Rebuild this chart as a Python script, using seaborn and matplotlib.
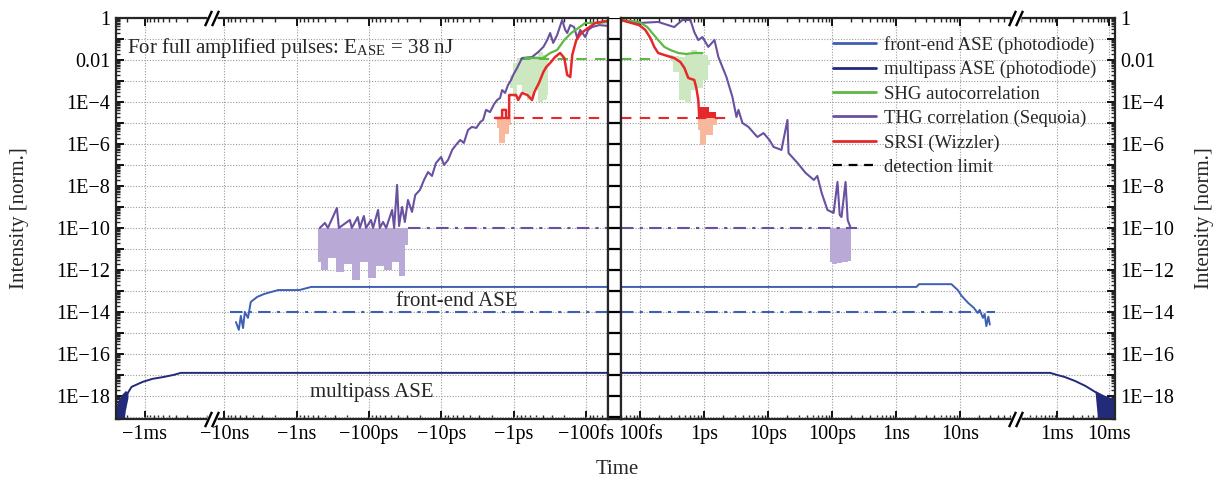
import numpy as np
import matplotlib
matplotlib.use('Agg')
import matplotlib.pyplot as plt
import matplotlib.ticker as mticker
import matplotlib.transforms as mtransforms
from matplotlib.lines import Line2D
import seaborn as sns

# 时间单位 s（负值 = 主脉冲之前），强度为归一化值

# front-end ASE (photodiode)
fe_left_t = [-6.9e-9, -6.3e-9, -5.9e-9, -5.5e-9, -5.2e-9, -4.7e-9, -4.3e-9, -3.5e-9, -2.8e-9,
             -1.8e-9, -9.2e-10, -6.3e-10, -5e-14]
fe_left_i = [3.3e-15, 1.4e-15, 6.5e-15, 1.7e-15, 1.0e-14, 5.2e-15, 3.0e-14, 5.2e-14, 7.2e-14,
             1.1e-13, 1.1e-13, 1.55e-13, 1.55e-13]
fe_right_t = [5e-14, 2.1e-9, 2.3e-9, 7.4e-9, 9.3e-9, 1.07e-8, 1.35e-8, 1.66e-8, 1.9e-8,
              2.05e-8, 2.3e-8, 2.45e-8, 2.6e-8, 2.8e-8, 2.95e-8]
fe_right_i = [1.55e-13, 1.55e-13, 2.1e-13, 2.1e-13, 1.1e-13, 5.8e-14, 2.7e-14, 1.55e-14, 8.9e-15,
              1.25e-14, 5.2e-15, 8e-15, 2.1e-15, 6e-15, 2.5e-15]

# multipass ASE (photodiode)
mp_left_t = [-3.0e-3, -2.6e-3, -2.1e-3, -1.65e-3, -1.07e-3, -7.4e-4, -4.8e-4, -3.3e-4, -2.5e-4, -5e-14]
mp_left_i = [8e-20, 4e-19, 8.9e-19, 2.7e-18, 4.7e-18, 6.5e-18, 8e-18, 1.0e-17, 1.25e-17, 1.25e-17]
mp_right_t = [5e-14, 7.4e-4, 1.0e-3, 1.4e-3, 2.2e-3, 3.5e-3, 5.4e-3, 7.4e-3, 9.5e-3, 1.3e-2]
mp_right_i = [1.25e-17, 1.25e-17, 1.0e-17, 8e-18, 5.2e-18, 3e-18, 1.55e-18, 1e-18, 7.2e-19, 4.7e-19]
mp_noise_left_t = [-3.0e-3, -2.7e-3, -2.4e-3, -2.1e-3, -1.9e-3]
mp_noise_left_hi = [3e-19, 7e-19, 1.2e-18, 1.8e-18, 1.5e-18]
mp_noise_left_lo = [1e-20, 1e-20, 1e-20, 2e-19, 8e-19]
mp_noise_right_t = [5.4e-3, 6.5e-3, 8e-3, 1e-2, 1.3e-2]
mp_noise_right_hi = [1.8e-18, 1.4e-18, 1.1e-18, 9e-19, 7e-19]
mp_noise_right_lo = [1.4e-18, 1e-20, 1e-20, 1e-20, 1e-20]

# THG correlation (Sequoia)
thg_left_t = [-4.78e-10, -4.07e-10, -3.70e-10, -2.78e-10, -2.61e-10, -1.84e-10, -1.73e-10, -1.43e-10,
              -1.34e-10, -1.18e-10, -1.10e-10, -9.4e-11, -8.8e-11, -7.5e-11, -7.1e-11, -6.4e-11,
              -5.8e-11, -4.8e-11, -4.5e-11, -4.1e-11, -3.85e-11, -3.5e-11, -3.2e-11, -2.9e-11,
              -2.55e-11, -2.3e-11, -1.98e-11, -1.74e-11, -1.53e-11, -1.35e-11, -1.19e-11, -1.01e-11,
              -9.2e-12, -8.1e-12, -7.1e-12, -6.3e-12, -5.5e-12, -4.9e-12, -4.3e-12, -3.8e-12,
              -3.3e-12, -2.9e-12, -2.66e-12, -2.42e-12, -2.13e-12, -1.87e-12, -1.70e-12, -1.55e-12,
              -1.45e-12, -1.32e-12, -1.20e-12, -1.09e-12, -1.02e-12, -9.0e-13, -7.7e-13, -5.6e-13,
              -4.6e-13, -3.9e-13, -3.46e-13, -3.15e-13, -2.86e-13, -2.52e-13, -2.15e-13, -1.95e-13,
              -1.83e-13, -1.66e-13, -1.47e-13, -1.33e-13, -1.21e-13, -1.03e-13, -9.4e-14, -8.3e-14,
              -6.6e-14, -5.0e-14]
thg_left_i = [1e-10, 1.73e-10, 1e-10, 8.9e-10, 1e-10, 2.4e-10, 1e-10, 3.3e-10,
              1e-10, 3.7e-10, 1e-10, 2.4e-10, 1e-10, 7.2e-10, 1e-10, 1.93e-10,
              1e-10, 7.2e-10, 1e-10, 1.12e-8, 1.24e-10, 1e-9, 1.93e-10, 2.15e-9,
              5.8e-10, 3.7e-9, 6.5e-9, 1.93e-8, 4.6e-8, 3.0e-8, 1.24e-7, 2.4e-7,
              1e-7, 1.73e-7, 5.2e-7, 9e-7, 1.55e-6, 1.12e-6, 4.6e-6, 6.5e-6,
              5.8e-6, 1.12e-5, 1.39e-5, 4.2e-5, 3.3e-5, 8e-5, 1.24e-4, 1.55e-4,
              3.7e-4, 2.7e-4, 6.5e-4, 1.12e-3, 1.93e-3, 4.2e-3, 1.24e-2, 1.39e-2,
              2.4e-2, 4.2e-2, 8.9e-2, 0.193, 6.5e-2, 0.155, 0.80, 0.27,
              0.193, 0.46, 0.37, 0.112, 0.27, 0.124, 0.27, 0.37,
              0.46, 0.42]
thg_right_t = [5.0e-14, 9.6e-14, 1.91e-13, 3.4e-13, 4.55e-13, 6.1e-13, 7.0e-13, 8.1e-13, 9.4e-13,
               1.16e-12, 1.45e-12, 1.67e-12, 2.23e-12, 2.77e-12, 3.2e-12, 3.44e-12, 3.97e-12,
               4.93e-12, 6.8e-12, 8.5e-12, 1.05e-11, 1.22e-11, 1.62e-11, 2.01e-11, 2.09e-11,
               2.89e-11, 3.86e-11, 5.2e-11, 5.9e-11, 6.9e-11, 8.5e-11, 1.06e-10, 1.22e-10,
               1.32e-10, 1.41e-10, 1.63e-10, 1.76e-10, 1.96e-10]
thg_right_i = [0.80, 0.58, 0.65, 0.37, 0.80, 0.80, 0.215, 8.9e-2, 0.124,
               4.2e-2, 8.9e-2, 1.39e-2, 1.55e-3, 1.73e-4, 1.93e-5, 4.2e-5, 1e-5,
               6.5e-6, 2.15e-6, 3.3e-6, 1.55e-6, 7.2e-7, 5.2e-7, 1.39e-5, 3.7e-7,
               1.24e-7, 4.2e-8, 1.93e-8, 3.0e-8, 4.6e-9, 7.2e-10, 5.2e-10, 1.55e-8,
               4.2e-10, 3.3e-10, 1.55e-8, 2.4e-10, 1e-10]
thg_fill_left_t = [-5.09e-10, -4.07e-10, -3.26e-10, -2.52e-10, -1.96e-10, -1.52e-10, -1.18e-10,
                   -9.1e-11, -7.1e-11, -5.5e-11, -4.25e-11, -3.4e-11, -2.9e-11]
thg_fill_left_lo = [2.4e-12, 1e-12, 3.7e-12, 8e-13, 1.93e-12, 3.3e-13, 2.4e-12,
                    4.2e-13, 1.55e-12, 1e-12, 2.4e-12, 5.2e-13, 1.55e-11]
thg_fill_right_t = [9.2e-11, 1.10e-10, 1.32e-10, 1.57e-10, 1.96e-10]
thg_fill_right_lo = [2.4e-12, 1.93e-12, 2.1e-12, 2.4e-12, 2.8e-12]

# SHG autocorrelation
shg_left_t = [-6.98e-13, -3.94e-13, -3.15e-13, -2.52e-13, -2.01e-13, -1.61e-13, -1.29e-13, -1.03e-13, -6.6e-14, -5.0e-14]
shg_left_i = [1.24e-2, 1.24e-2, 2.15e-2, 3.0e-2, 8.9e-2, 0.193, 0.33, 0.58, 0.58, 0.65]
shg_right_t = [5.0e-14, 9.6e-14, 1.29e-13, 1.54e-13, 1.91e-13, 2.38e-13, 2.95e-13, 3.94e-13, 5.26e-13, 7.0e-13, 9.4e-13]
shg_right_i = [0.80, 0.65, 0.37, 0.193, 8.9e-2, 4.2e-2, 3.0e-2, 2.15e-2, 1.93e-2, 2.15e-2, 2.15e-2]
shg_fill_left_t = [-1.12e-12, -9.6e-13, -8.2e-13, -7.0e-13, -5.96e-13, -5.07e-13, -4.33e-13, -3.69e-13, -3.37e-13]
shg_fill_left_hi = [1.93e-3, 7.2e-3, 1.24e-2, 1.24e-2, 1.24e-2, 1.55e-2, 2.4e-2, 1.73e-2, 1e-2]
shg_fill_left_lo = [4.6e-4, 2.15e-4, 6.5e-4, 3.0e-4, 1.24e-4, 3.7e-4, 1e-4, 1.24e-4, 2.15e-4]
shg_fill_right_t = [2.95e-13, 3.66e-13, 4.55e-13, 5.65e-13, 7.0e-13, 8.7e-13, 1.08e-12, 1.25e-12]
shg_fill_right_hi = [1.73e-2, 1.55e-2, 1.39e-2, 1.73e-2, 3.0e-2, 2.4e-2, 1.73e-2, 1e-2]
shg_fill_right_lo = [1e-2, 2.7e-3, 1.24e-4, 8.9e-5, 3.7e-4, 4.6e-4, 1.12e-3, 5.8e-3]

# SRSI (Wizzler)
srsi_left_t = [-1.82e-12, -1.45e-12, -1.45e-12, -1.28e-12, -1.28e-12, -1.16e-12, -1.16e-12, -9.3e-13,
               -8.7e-13, -7.7e-13, -6.5e-13, -5.6e-13, -5.2e-13, -4.5e-13, -3.9e-13, -3.57e-13,
               -3.15e-13, -2.69e-13, -2.29e-13, -2.01e-13, -1.83e-13, -1.66e-13, -1.56e-13, -1.37e-13,
               -1.17e-13, -9.4e-14, -7.5e-14, -5.3e-14]
srsi_left_i = [1.73e-5, 1.73e-5, 4.2e-5, 4.2e-5, 1.73e-5, 1.73e-5, 2.15e-4, 2.15e-4,
               1.24e-4, 2.7e-4, 2.15e-4, 1.24e-4, 3.0e-4, 8e-4, 2.7e-3, 4.6e-3,
               7.2e-3, 1.39e-2, 2.15e-2, 1.24e-2, 1.93e-3, 1.55e-3, 1.73e-2, 8.9e-2,
               0.193, 0.33, 0.58, 0.72]
srsi_right_t = [5.0e-14, 9.6e-14, 1.2e-13, 1.44e-13, 1.66e-13, 1.91e-13, 2.38e-13, 3.4e-13,
                4.24e-13, 4.9e-13, 5.65e-13, 7.0e-13, 7.55e-13, 8.1e-13, 8.4e-13]
srsi_right_i = [0.8, 0.46, 0.27, 0.112, 4.2e-2, 2.15e-2, 1.73e-2, 1.24e-2,
                8e-3, 4.2e-3, 1.39e-3, 1.12e-3, 4.6e-4, 1.24e-4, 1.73e-5]
srsi_block_t = [8.6e-13, 1.21e-12, 1.55e-12]
srsi_block_hi = [5.8e-5, 3.3e-5, 3.3e-5]
srsi_fill_left_t = [-1.70e-12, -1.55e-12, -1.40e-12, -1.25e-12, -1.09e-12]
srsi_fill_left_lo = [5.8e-6, 1.12e-6, 1.12e-6, 3e-6, 8e-6]
srsi_fill_right_t = [8.1e-13, 9.4e-13, 1.21e-12, 1.55e-12, 1.67e-12]
srsi_fill_right_lo = [4.6e-6, 9e-7, 2.7e-6, 8e-6, 1.39e-5]
srsi_floor = 1.73e-5

# detection limits: (level, start, end)
det_fe = (1e-14, -8.3e-9, 3.5e-8)
det_thg = (1e-10, -2.9e-11, 2.43e-10)
det_srsi = (1.73e-5, -1.82e-12, 2.23e-12)
det_shg = (1.12e-2, -8.2e-13, 2.0e-13)

c_fe = '#3f5fb5'
c_mp = '#222a7a'
c_shg = '#5cb946'
c_thg = '#6950a1'
c_srsi = '#e5282a'
c_shg_l = '#cde8c0'
c_thg_l = '#b9a9d6'
c_srsi_l = '#f7b89c'


# 带断点的对数时间轴（左：t<0，右：t>0），单位近似像素
def left_fwd(t):
    L = np.log10(np.clip(np.abs(np.asarray(t, float)), 1e-30, None))
    near = 586 - 72.3 * (L + 13)
    far = 145 - 60.0 * (L + 3)
    return np.where(L <= -7.827, near, np.where(L >= -4.117, far, 212.0))


def left_inv(p):
    p = np.asarray(p, float)
    L = np.where(p >= 212, -13 + (586 - p) / 72.3, -3 + (145 - p) / 60.0)
    return -10.0 ** L


def right_fwd(t):
    L = np.log10(np.clip(np.abs(np.asarray(t, float)), 1e-30, None))
    near = 641 + 63.8 * (L + 13)
    far = 1057 + 52.0 * (L + 3)
    return np.where(L <= -7.122, near, np.where(L >= -3.788, far, 1016.0))


def right_inv(p):
    p = np.asarray(p, float)
    L = np.where(p <= 1016, -13 + (p - 641) / 63.8, -3 + (p - 1057) / 52.0)
    return 10.0 ** L


def minor_ticks(lo, hi, gap):
    vals = []
    for e in range(-15, 0):
        for k in range(2, 10):
            v = k * 10.0 ** e
            lv = np.log10(v)
            if lo <= v <= hi and not (gap[0] < lv < gap[1]):
                vals.append(v)
    return vals


def ylab(v, pos):
    e = int(round(np.log10(v)))
    if e % 2:
        return ''
    if e == 0:
        return '1'
    if e == -2:
        return '0.01'
    return f'1E\u2212{-e}'


sns.set_theme(style='ticks')
plt.rcParams['font.family'] = ['Liberation Serif', 'DejaVu Serif']
plt.rcParams['mathtext.fontset'] = 'stix'
plt.rcParams['axes.linewidth'] = 1.6

W, H = 1221, 483
fig = plt.figure(figsize=(W / 100, H / 100), dpi=100)
bot = 1 - 419 / H
hgt = 401 / H
ax_l = fig.add_axes([116 / W, bot, (608 - 116) / W, hgt])
ax_m = fig.add_axes([608 / W, bot, 13 / W, hgt])
ax_r = fig.add_axes([621 / W, bot, (1115 - 621) / W, hgt])

ymin, ymax = 10 ** -19.1, 1.0
for ax in (ax_l, ax_m, ax_r):
    ax.set_yscale('log')
    ax.set_ylim(ymin, ymax)
    ax.yaxis.set_major_locator(mticker.FixedLocator(10.0 ** np.arange(-19, 1)))
    ax.yaxis.set_minor_locator(mticker.LogLocator(base=10, subs=np.arange(2, 10), numticks=100))
    ax.yaxis.set_major_formatter(mticker.FuncFormatter(ylab))
    ax.yaxis.set_minor_formatter(mticker.NullFormatter())
    ax.set_facecolor('white')

ax_l.set_xscale('function', functions=(left_fwd, left_inv))
ax_r.set_xscale('function', functions=(right_fwd, right_inv))
ax_l.set_xlim(-3.0e-3, -5.0e-14)
ax_r.set_xlim(5.0e-14, 1.3e-2)

# 中间的"梯子"列
ax_m.set_xticks([])
ax_m.tick_params(axis='y', which='both', left=False, right=False, labelleft=False)
ax_m.grid(True, axis='y', which='major', color='black', lw=1.6, ls='-')
ax_m.spines['top'].set_visible(False)

left_major = [-1e-3, -1e-8, -1e-9, -1e-10, -1e-11, -1e-12, -1e-13]
left_labels = ['\u22121ms', '\u221210ns', '\u22121ns', '\u2212100ps', '\u221210ps', '\u22121ps', '\u2212100fs']
right_major = [1e-13, 1e-12, 1e-11, 1e-10, 1e-9, 1e-8, 1e-3, 1e-2]
right_labels = ['100fs', '1ps', '10ps', '100ps', '1ns', '10ns', '1ms', '10ms']

ax_l.xaxis.set_major_locator(mticker.FixedLocator(left_major))
ax_l.xaxis.set_major_formatter(mticker.FixedFormatter(left_labels))
ax_l.xaxis.set_minor_locator(mticker.FixedLocator(
    [-v for v in minor_ticks(5e-14, 3e-3, (-7.827, -4.117))]))
ax_r.xaxis.set_major_locator(mticker.FixedLocator(right_major))
ax_r.xaxis.set_major_formatter(mticker.FixedFormatter(right_labels))
ax_r.xaxis.set_minor_locator(mticker.FixedLocator(minor_ticks(5e-14, 1.3e-2, (-7.122, -3.788))))
for ax in (ax_l, ax_r):
    ax.xaxis.set_minor_formatter(mticker.NullFormatter())

for ax in (ax_l, ax_r):
    ax.set_axisbelow(True)
    ax.grid(True, which='major', color='#9a9a9a', ls=(0, (1, 1.5)), lw=0.8)
    ax.tick_params(axis='both', which='major', direction='in', length=6, width=1.3,
                   top=True, bottom=True, labelsize=14.5, colors='black', pad=4)
    ax.tick_params(axis='both', which='minor', direction='in', length=3, width=1.0,
                   top=True, bottom=True)
ax_l.tick_params(axis='y', which='both', left=True, right=False, labelleft=True, labelright=False)
ax_r.tick_params(axis='y', which='both', left=False, right=True, labelleft=False, labelright=True)

# 曲线
def line(ax, t, i, color, lw):
    sns.lineplot(x=t, y=i, ax=ax, color=color, lw=lw, estimator=None, sort=False)


def det(ax_a, ax_b, d, color, dash):
    lvl, t0, t1 = d
    ax_a.plot([t0, -5e-14], [lvl, lvl], color=color, lw=1.5, ls=dash)
    ax_b.plot([5e-14, t1], [lvl, lvl], color=color, lw=1.5, ls=dash)


dashdot = (0, (6, 3, 1.5, 3))
dashed = (0, (5, 4))

ax_l.fill_between(thg_fill_left_t, thg_fill_left_lo, 1e-10, color=c_thg_l, lw=0, step='mid')
ax_r.fill_between(thg_fill_right_t, thg_fill_right_lo, 1e-10, color=c_thg_l, lw=0, step='mid')
ax_l.fill_between(shg_fill_left_t, shg_fill_left_lo, shg_fill_left_hi, color=c_shg_l, lw=0, step='mid')
ax_r.fill_between(shg_fill_right_t, shg_fill_right_lo, shg_fill_right_hi, color=c_shg_l, lw=0, step='mid')
ax_l.fill_between(srsi_fill_left_t, srsi_fill_left_lo, srsi_floor, color=c_srsi_l, lw=0, step='mid')
ax_r.fill_between(srsi_fill_right_t, srsi_fill_right_lo, srsi_floor, color=c_srsi_l, lw=0, step='mid')
ax_r.fill_between(srsi_block_t, srsi_floor, srsi_block_hi, color=c_srsi, lw=0, step='post')
ax_l.fill_between(mp_noise_left_t, mp_noise_left_lo, mp_noise_left_hi, color=c_mp, lw=0)
ax_r.fill_between(mp_noise_right_t, mp_noise_right_lo, mp_noise_right_hi, color=c_mp, lw=0)

det(ax_l, ax_r, det_fe, c_fe, dashdot)
det(ax_l, ax_r, det_thg, c_thg, dashdot)
det(ax_l, ax_r, det_srsi, c_srsi, dashed)
det(ax_l, ax_r, det_shg, c_shg, dashed)

line(ax_l, mp_left_t, mp_left_i, c_mp, 1.4)
line(ax_r, mp_right_t, mp_right_i, c_mp, 1.4)
line(ax_l, fe_left_t, fe_left_i, c_fe, 1.4)
line(ax_r, fe_right_t, fe_right_i, c_fe, 1.4)
line(ax_l, thg_left_t, thg_left_i, c_thg, 1.5)
line(ax_r, thg_right_t, thg_right_i, c_thg, 1.5)
line(ax_l, shg_left_t, shg_left_i, c_shg, 1.6)
line(ax_r, shg_right_t, shg_right_i, c_shg, 1.6)
line(ax_l, srsi_left_t, srsi_left_i, c_srsi, 1.8)
line(ax_r, srsi_right_t, srsi_right_i, c_srsi, 1.8)

for ax in (ax_l, ax_r):
    ax.set_xlabel('')
    ax.set_ylabel('')
    ax.set_xlim(ax.get_xlim())

# 断轴标记 "//"
for ax, tb in ((ax_l, -1e-6), (ax_r, 1e-5)):
    tr = mtransforms.blended_transform_factory(ax.transData, ax.transAxes)
    for yy in (0.0, 1.0):
        ax.plot([tb], [yy], marker='s', ms=7, mfc='white', mec='none', transform=tr,
                clip_on=False, zorder=9)
        for dx in (-2.5, 2.5):
            off = mtransforms.ScaledTranslation(dx / 72, 0, fig.dpi_scale_trans)
            ax.plot([tb], [yy], marker=[(-1, -2.2), (1, 2.2)], ms=11, mec='black', mew=1.7,
                    transform=tr + off, clip_on=False, zorder=10)

ax_l.text(0.022, 0.925, 'For full amplified pulses: E$_{\\mathregular{ASE}}$ = 38 nJ',
          transform=ax_l.transAxes, fontsize=15, ha='left', va='center')
ax_l.text(0.693, 0.292, 'front-end ASE', transform=ax_l.transAxes, fontsize=15, ha='center', va='center')
ax_l.text(0.52, 0.065, 'multipass ASE', transform=ax_l.transAxes, fontsize=15, ha='center', va='center')

handles = [Line2D([0], [0], color=c_fe, lw=2),
           Line2D([0], [0], color=c_mp, lw=2),
           Line2D([0], [0], color=c_shg, lw=2),
           Line2D([0], [0], color=c_thg, lw=2),
           Line2D([0], [0], color=c_srsi, lw=2),
           Line2D([0], [0], color='black', lw=1.6, ls=(0, (4, 3)))]
labels = ['front-end ASE (photodiode)', 'multipass ASE (photodiode)', 'SHG autocorrelation',
          'THG correlation (Sequoia)', 'SRSI (Wizzler)', 'detection limit']
ax_r.legend(handles, labels, loc='upper right', bbox_to_anchor=(0.962, 0.955), frameon=False,
            fontsize=13.5, handlelength=2.3, handletextpad=0.4, labelspacing=0.38,
            borderaxespad=0, borderpad=0)

fig.text(617 / W, 1 - 470 / H, 'Time', ha='center', va='center', fontsize=15)
fig.text(20 / W, 1 - 218 / H, 'Intensity [norm.]', rotation=90, ha='center', va='center', fontsize=15)
fig.text(1205 / W, 1 - 218 / H, 'Intensity [norm.]', rotation=90, ha='center', va='center', fontsize=15)

fig.savefig('out.png', dpi=100)
